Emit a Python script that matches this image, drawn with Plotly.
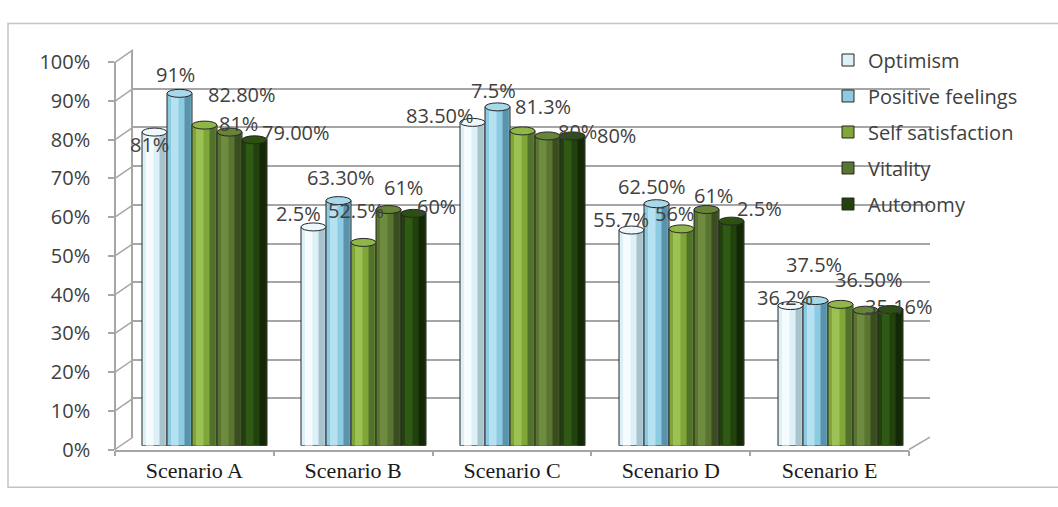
import plotly.graph_objects as go

W, H = 1058, 507

# ---- data -------------------------------------------------------------
scenarios = ["Scenario A", "Scenario B", "Scenario C", "Scenario D", "Scenario E"]
series_names = ["Optimism", "Positive feelings", "Self satisfaction", "Vitality", "Autonomy"]

optimism = [0.81, 0.565, 0.835, 0.557, 0.362]
positive_feelings = [0.91, 0.633, 0.875, 0.625, 0.375]
self_satisfaction = [0.828, 0.525, 0.813, 0.56, 0.365]
vitality = [0.81, 0.61, 0.80, 0.61, 0.35]
autonomy = [0.79, 0.60, 0.80, 0.58, 0.3516]

optimism_labels = ["81%", "2.5%", "83.50%", "55.7%", "36.2%"]
positive_feelings_labels = ["91%", "63.30%", "7.5%", "62.50%", "37.5%"]
self_satisfaction_labels = ["82.80%", "52.5%", "81.3%", "56%", "36.50%"]
vitality_labels = ["81%", "61%", "80%", "61%", ""]
autonomy_labels = ["79.00%", "60%", "80%", "2.5%", "35.16%"]

y_ticks = [0.0, 0.1, 0.2, 0.3, 0.4, 0.5, 0.6, 0.7, 0.8, 0.9, 1.0]
y_tick_labels = ["0%", "10%", "20%", "30%", "40%", "50%", "60%", "70%", "80%", "90%", "100%"]

values = [optimism, positive_feelings, self_satisfaction, vitality, autonomy]
labels = [optimism_labels, positive_feelings_labels, self_satisfaction_labels,
          vitality_labels, autonomy_labels]

# ---- style --------------------------------------------------------------
# (base, highlight, shade, cap) per series
palette = [
    ("#dcf0f8", "#f6fcfe", "#a9c3cd", "#eef8fc"),
    ("#8ccbe2", "#b6e1f1", "#5a93aa", "#a8d9eb"),
    ("#80a63a", "#9cc254", "#52712a", "#90b649"),
    ("#5a7431", "#6f8b3f", "#3b4d20", "#68833a"),
    ("#21420c", "#2f5914", "#132806", "#2b5011"),
]
outline = "#262626"
grid_color = "#a6a6a6"
text_color = "#404040"

# label placement (pixel shifts from the top centre of each bar)
label_dx = [
    [-5.5, -15.5, -32.5, -10.5, -5.5],
    [-4.5, 2.5, -4.0, -4.5, -1.5],
    [37.5, -7.5, 20.5, -7.5, 28.5],
    [8.5, 14.5, 30.0, 6.5, 0.0],
    [41.5, 22.5, 43.5, 27.5, 8.5],
]
label_dy = [
    [-12.5, 13.5, 7.0, 10.7, 8.3],
    [19.0, 22.7, 16.0, 17.0, 36.0],
    [31.0, 31.8, 24.0, 15.5, 25.0],
    [8.5, 22.0, 4.6, 14.0, 0.0],
    [7.7, 7.0, 0.6, 12.4, 3.5],
]


def fx(p):
    return p / W


def fy(p):
    return 1 - p / H


# pixel geometry of the pseudo-3D frame
back_left, back_right, back_bottom, back_top = 133, 930, 447, 38
front_left, front_right, front_bottom, front_top = 115, 909, 460, 51
bars_left, bars_right, bars_bottom, bars_top = 125, 920, 456, 47

n_series = len(series_names)
bar_w = 25 / 159
group_w = bar_w * n_series
offsets = [-group_w / 2 + i * bar_w for i in range(n_series)]

fig = go.Figure()

# back wall subplot (x, y) – gridlines only
fig.add_trace(go.Scatter(x=[0], y=[None], xaxis="x", yaxis="y",
                         showlegend=False, hoverinfo="skip"))
# front axes subplot (x2, y2) – category labels and percentage labels
fig.add_trace(go.Scatter(x=scenarios, y=[None] * len(scenarios), xaxis="x2", yaxis="y2",
                         mode="markers", showlegend=False, hoverinfo="skip"))

# bars (x3, y3): body, highlight and shade strips give the cylinder look
for i, name in enumerate(series_names):
    base, hi, shade, cap = palette[i]
    off = offsets[i]
    fig.add_trace(go.Bar(
        x=scenarios, y=values[i], name=name, xaxis="x3", yaxis="y3",
        offset=off, width=bar_w,
        marker=dict(color=base, line=dict(color=outline, width=1)),
        legendgroup=name, hoverinfo="skip",
    ))
    fig.add_trace(go.Bar(
        x=scenarios, y=values[i], xaxis="x3", yaxis="y3",
        offset=off + 0.16 * bar_w, width=0.3 * bar_w,
        marker=dict(color=hi, line=dict(width=0)),
        showlegend=False, legendgroup=name, hoverinfo="skip",
    ))
    fig.add_trace(go.Bar(
        x=scenarios, y=values[i], xaxis="x3", yaxis="y3",
        offset=off + 0.7 * bar_w, width=0.25 * bar_w,
        marker=dict(color=shade, line=dict(width=0)),
        showlegend=False, legendgroup=name, hoverinfo="skip",
    ))

shapes = []
annotations = []

# cylinder caps and data labels
for i in range(n_series):
    cap = palette[i][3]
    for j, v in enumerate(values[i]):
        x0 = j + offsets[i]
        shapes.append(dict(
            type="circle", xref="x3", yref="y3", x0=x0, x1=x0 + bar_w,
            ysizemode="pixel", yanchor=v, y0=-4, y1=4,
            fillcolor=cap, line=dict(color=outline, width=1), layer="above",
        ))
        txt = labels[i][j]
        if txt:
            annotations.append(dict(
                x=x0 + bar_w / 2, y=v, xref="x3", yref="y3", text=txt,
                showarrow=False, xanchor="center", yanchor="middle",
                xshift=label_dx[i][j], yshift=label_dy[i][j],
                font=dict(family="Open Sans", size=20, color=text_color),
            ))

# side wall: lines joining front ticks to back gridlines
span_front = front_bottom - front_top
span_back = back_bottom - back_top
for t in y_ticks:
    yf = front_bottom - t * span_front
    yb = back_bottom - t * span_back
    shapes.append(dict(type="line", xref="paper", yref="paper",
                       x0=fx(front_left), y0=fy(yf), x1=fx(back_left), y1=fy(yb),
                       line=dict(color=grid_color, width=1.5), layer="below"))
# floor right edge
shapes.append(dict(type="line", xref="paper", yref="paper",
                   x0=fx(front_right), y0=fy(front_bottom), x1=fx(back_right), y1=fy(back_bottom),
                   line=dict(color=grid_color, width=1.5), layer="below"))
# chart frame
shapes.append(dict(type="rect", xref="paper", yref="paper",
                   x0=fx(8), y0=fy(500), x1=fx(1062), y1=fy(10),
                   line=dict(color="#c4c4c4", width=1.5), layer="below"))

fig.update_layout(
    width=W, height=H, autosize=False,
    margin=dict(l=0, r=0, t=0, b=0),
    paper_bgcolor="white", plot_bgcolor="rgba(0,0,0,0)",
    barmode="overlay",
    showlegend=True,
    legend=dict(
        x=fx(828), y=fy(28), xanchor="left", yanchor="top",
        bgcolor="rgba(255,255,255,0)", tracegroupgap=7,
        font=dict(family="Open Sans", size=20, color=text_color),
        itemwidth=30,
    ),
    xaxis=dict(domain=[fx(back_left), fx(back_right)], anchor="y", range=[0, 1],
               showgrid=False, zeroline=False, showline=False,
               showticklabels=False, ticks=""),
    yaxis=dict(domain=[fy(back_bottom), fy(back_top)], anchor="x", range=[0, 1],
               tickmode="array", tickvals=y_ticks, showticklabels=False, ticks="",
               showgrid=True, gridcolor=grid_color, gridwidth=1.5,
               zeroline=False, showline=True, linecolor=grid_color, linewidth=1.5),
    xaxis2=dict(domain=[fx(front_left), fx(front_right)], anchor="y2",
                type="category", range=[-0.5, len(scenarios) - 0.5],
                showgrid=False, zeroline=False,
                showline=True, linecolor=grid_color, linewidth=1.5,
                ticks="outside", tickson="boundaries", ticklen=5,
                tickcolor=grid_color, tickwidth=1.5,
                tickfont=dict(family="Liberation Serif", size=22, color="#1a1a1a")),
    yaxis2=dict(domain=[fy(front_bottom), fy(front_top)], anchor="free",
                position=fx(front_left), range=[0, 1],
                tickmode="array", tickvals=y_ticks, ticktext=y_tick_labels,
                showgrid=False, zeroline=False,
                showline=True, linecolor=grid_color, linewidth=1.5,
                ticks="outside", ticklen=6, tickcolor=grid_color, tickwidth=1.5,
                ticklabelstandoff=14,
                tickfont=dict(family="Open Sans", size=20, color=text_color)),
    xaxis3=dict(domain=[fx(bars_left), fx(bars_right)], anchor="y3",
                type="category", range=[-0.5, len(scenarios) - 0.5],
                showgrid=False, zeroline=False, showline=False,
                showticklabels=False, ticks=""),
    yaxis3=dict(domain=[fy(bars_bottom), fy(bars_top)], anchor="x3", range=[0, 1],
                showgrid=False, zeroline=False, showline=False,
                showticklabels=False, ticks=""),
    shapes=shapes,
    annotations=annotations,
)

fig.write_html("out.html")
